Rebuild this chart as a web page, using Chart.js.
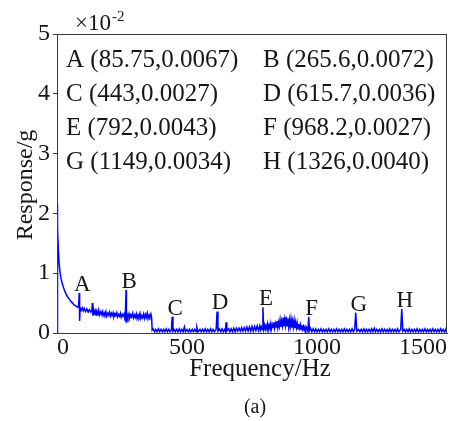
<!DOCTYPE html>
<html lang="en">
<head>
    <meta charset="UTF-8">
    <title>Response Spectrum</title>
    <script src="https://cdn.jsdelivr.net/npm/chart.js"></script>
    <style>
        body {
            margin: 0;
            padding: 0;
            background: #ffffff;
        }
        canvas {
            display: block;
        }
    </style>
</head>
<body>

<canvas id="spectrumChart" width="459" height="421"></canvas>

<script>
    // Labelled peaks: name, frequency (Hz), response (g)
    const peakNames = ['A', 'B', 'C', 'D', 'E', 'F', 'G', 'H'];
    const peakFreqHz = [85.75, 265.6, 443, 615.7, 792, 968.2, 1149, 1326];
    const peakRespG = [0.0067, 0.0072, 0.0027, 0.0036, 0.0043, 0.0027, 0.0034, 0.0040];

    const xTicks = [0, 500, 1000, 1500];
    const yTicks = [0, 1, 2, 3, 4, 5];   // in units of 10^-2 g

    // Spectrum below the cut-off, [Hz, 10^-2 g]
    const lowBand = [
        [0, 0], [1, 2.15], [3, 1.75], [5, 1.42], [8, 1.17], [12, 1.0], [16, 0.9], [20, 0.83],
        [25, 0.76], [30, 0.7], [35, 0.65], [40, 0.61], [45, 0.58], [50, 0.55], [55, 0.52],
        [60, 0.5], [65, 0.47], [70, 0.46], [75, 0.44], [80, 0.43], [83, 0.45], [87, 0.2],
        [89, 0.42], [93, 0.38], [97, 0.42], [101, 0.37], [105, 0.41], [110, 0.36], [115, 0.4],
        [120, 0.35], [125, 0.39], [130, 0.35], [134, 0.38], [136, 0.5], [138, 0.29], [141, 0.39],
        [144, 0.33], [147, 0.37], [150, 0.3], [153, 0.36], [157, 0.32], [160, 0.38], [163, 0.3],
        [167, 0.35], [170, 0.31], [174, 0.36], [177, 0.29], [181, 0.34], [184, 0.31], [188, 0.36],
        [191, 0.28], [195, 0.33], [198, 0.3], [202, 0.35], [205, 0.28], [209, 0.33], [212, 0.29],
        [216, 0.34], [219, 0.27], [223, 0.32], [226, 0.29], [230, 0.34], [233, 0.27], [237, 0.31],
        [240, 0.28], [244, 0.33], [247, 0.26], [251, 0.31], [254, 0.28], [258, 0.32], [261, 0.27],
        [263, 0.3], [267, 0.17], [270, 0.31], [273, 0.26], [277, 0.32], [280, 0.25], [284, 0.3],
        [287, 0.27], [291, 0.33], [294, 0.25], [298, 0.3], [301, 0.26], [305, 0.32], [308, 0.24],
        [312, 0.3], [315, 0.27], [319, 0.33], [322, 0.24], [326, 0.29], [329, 0.26], [333, 0.32],
        [336, 0.24], [340, 0.31], [343, 0.26], [347, 0.33], [350, 0.24], [354, 0.3], [357, 0.27],
        [361, 0.32], [364, 0.25], [366, 0.05]
    ];

    // Spectrum above the cut-off, [Hz, 10^-2 g]
    const highBand = [
        [370, 0.07], [375, 0.02], [380, 0.06], [385, 0.02], [390, 0.07], [395, 0.02], [400, 0.06],
        [405, 0.02], [410, 0.06], [415, 0.02], [420, 0.07], [425, 0.02], [430, 0.06], [435, 0.02],
        [440, 0.05], [446, 0.03], [450, 0.06], [455, 0.02], [460, 0.06], [465, 0.02], [470, 0.07],
        [475, 0.02], [480, 0.06], [485, 0.02], [490, 0.1], [494, 0.02], [500, 0.06], [505, 0.02],
        [510, 0.06], [515, 0.02], [520, 0.06], [525, 0.02], [530, 0.06], [535, 0.02], [538, 0.09],
        [542, 0.02], [550, 0.06], [555, 0.02], [560, 0.06], [565, 0.02], [570, 0.07], [575, 0.02],
        [580, 0.06], [585, 0.02], [590, 0.07], [595, 0.02], [600, 0.06], [605, 0.02], [612, 0.06],
        [619, 0.03], [625, 0.07], [630, 0.02], [635, 0.07], [640, 0.02], [645, 0.06], [648, 0.03],
        [650, 0.18], [653, 0.03], [660, 0.07], [665, 0.02], [670, 0.07], [675, 0.02], [680, 0.08],
        [685, 0.02], [690, 0.08], [695, 0.03], [700, 0.08], [705, 0.03], [710, 0.09], [715, 0.03],
        [720, 0.09], [725, 0.03], [730, 0.1], [735, 0.03], [740, 0.1], [745, 0.03], [750, 0.11],
        [755, 0.03], [760, 0.11], [765, 0.04], [770, 0.12], [775, 0.04], [780, 0.12], [783, 0.05],
        [786, 0.1], [789, 0.06], [795, 0.07], [798, 0.13], [801, 0.06], [804, 0.12], [807, 0.07],
        [810, 0.15], [813, 0.06], [816, 0.13], [819, 0.08], [822, 0.16], [825, 0.07], [828, 0.14],
        [831, 0.09], [834, 0.18], [837, 0.08], [840, 0.16], [843, 0.1], [846, 0.2], [849, 0.09],
        [852, 0.18], [855, 0.11], [858, 0.22], [861, 0.1], [864, 0.2], [867, 0.12], [870, 0.26],
        [873, 0.11], [876, 0.23], [879, 0.13], [882, 0.27], [885, 0.12], [888, 0.24], [891, 0.1],
        [894, 0.22], [897, 0.11], [900, 0.23], [903, 0.09], [906, 0.2], [909, 0.1], [912, 0.21],
        [915, 0.08], [918, 0.18], [921, 0.09], [924, 0.17], [927, 0.07], [930, 0.15], [933, 0.08],
        [936, 0.14], [939, 0.06], [942, 0.13], [945, 0.06], [948, 0.11], [951, 0.05], [954, 0.1],
        [957, 0.04], [960, 0.09], [965, 0.03], [971, 0.04], [975, 0.08], [980, 0.02], [985, 0.07],
        [990, 0.02], [995, 0.07], [1000, 0.02], [1005, 0.06], [1010, 0.02], [1015, 0.07],
        [1020, 0.02], [1025, 0.06], [1030, 0.02], [1035, 0.06], [1040, 0.02], [1045, 0.07],
        [1050, 0.02], [1055, 0.06], [1060, 0.02], [1065, 0.06], [1070, 0.02], [1075, 0.07],
        [1080, 0.02], [1085, 0.06], [1090, 0.02], [1095, 0.06], [1100, 0.02], [1105, 0.07],
        [1110, 0.02], [1115, 0.06], [1120, 0.02], [1125, 0.06], [1130, 0.02], [1135, 0.07],
        [1140, 0.02], [1145, 0.06], [1153, 0.03], [1160, 0.06], [1165, 0.02], [1170, 0.06],
        [1175, 0.02], [1180, 0.07], [1185, 0.02], [1190, 0.06], [1195, 0.02], [1200, 0.06],
        [1205, 0.02], [1210, 0.07], [1215, 0.02], [1220, 0.08], [1225, 0.02], [1230, 0.06],
        [1235, 0.02], [1240, 0.06], [1245, 0.02], [1250, 0.07], [1255, 0.02], [1260, 0.06],
        [1265, 0.02], [1270, 0.06], [1275, 0.02], [1280, 0.07], [1285, 0.02], [1290, 0.06],
        [1295, 0.02], [1300, 0.06], [1305, 0.02], [1310, 0.07], [1315, 0.02], [1322, 0.06],
        [1330, 0.03], [1335, 0.06], [1340, 0.02], [1345, 0.06], [1350, 0.02], [1355, 0.07],
        [1360, 0.02], [1365, 0.06], [1370, 0.02], [1375, 0.06], [1380, 0.02], [1385, 0.07],
        [1390, 0.02], [1395, 0.06], [1400, 0.02], [1405, 0.06], [1410, 0.02], [1415, 0.07],
        [1420, 0.02], [1425, 0.06], [1430, 0.02], [1435, 0.06], [1440, 0.02], [1445, 0.07],
        [1450, 0.02], [1455, 0.06], [1460, 0.02], [1465, 0.06], [1470, 0.02], [1475, 0.07],
        [1480, 0.02], [1485, 0.06], [1490, 0.02], [1495, 0.06], [1498, 0.02], [1500, 0.3]
    ];

    const SERIF = '"Liberation Serif", "Times New Roman", serif';
    const INK = '#161616';

    // merge the band data with the labelled peaks (g -> 10^-2 g)
    const points = lowBand.concat(highBand)
        .map(p => ({x: p[0], y: p[1]}))
        .concat(peakFreqHz.map((f, i) => ({x: f, y: peakRespG[i] * 100})))
        .sort((a, b) => a.x - b.x);

    // frame, axis titles, peak letters and the peak table
    const decorations = {
        id: 'decorations',
        afterDatasetsDraw(chart) {
            const ctx = chart.ctx;
            const area = chart.chartArea;
            const xs = chart.scales.x;
            const ys = chart.scales.y;

            ctx.save();
            ctx.strokeStyle = '#3a3a3a';
            ctx.lineWidth = 1;
            ctx.strokeRect(area.left + 0.5, area.top + 0.5, area.right - area.left - 1, area.bottom - area.top);

            ctx.fillStyle = INK;

            // letters over each peak
            ctx.font = '23px ' + SERIF;
            ctx.textAlign = 'center';
            ctx.textBaseline = 'alphabetic';
            peakNames.forEach((name, i) => {
                const px = xs.getPixelForValue(peakFreqHz[i]) + 3;
                const py = ys.getPixelForValue(peakRespG[i] * 100) - 2;
                ctx.fillText(name, px, py);
            });

            // peak coordinate table, two columns
            ctx.font = '25px ' + SERIF;
            ctx.textAlign = 'left';
            const colX = [66, 263];
            const rowY = [67, 101, 135, 169];
            peakNames.forEach((name, i) => {
                const txt = name + ' (' + peakFreqHz[i] + ',' + peakRespG[i].toFixed(4) + ')';
                ctx.fillText(txt, colX[i % 2], rowY[Math.floor(i / 2)]);
            });

            // exponent above the y axis
            ctx.font = '23px ' + SERIF;
            ctx.fillText('\u00d710', 75, 30);
            const w = ctx.measureText('\u00d710').width;
            ctx.font = '15px ' + SERIF;
            ctx.fillText('-2', 75 + w + 1, 21);

            // axis titles
            ctx.font = '25px ' + SERIF;
            ctx.textAlign = 'center';
            ctx.fillText('Frequency/Hz', 260, 376);

            ctx.font = '20px ' + SERIF;
            ctx.fillText('(a)', 255, 413);

            ctx.save();
            ctx.translate(32, 185);
            ctx.rotate(-Math.PI / 2);
            ctx.font = '24px ' + SERIF;
            ctx.fillText('Response/g', 0, 0);
            ctx.restore();

            ctx.restore();
        }
    };

    const ctx = document.getElementById('spectrumChart').getContext('2d');
    const spectrumChart = new Chart(ctx, {
        type: 'line',
        data: {
            datasets: [{
                data: points,
                borderColor: '#0000ff',
                borderWidth: 1.5,
                pointRadius: 0,
                tension: 0,
                fill: false
            }]
        },
        options: {
            responsive: false,
            animation: false,
            devicePixelRatio: 1,
            layout: {
                padding: {left: 0, top: 34, right: 12, bottom: 0}
            },
            plugins: {
                legend: {display: false},
                tooltip: {enabled: false}
            },
            scales: {
                x: {
                    type: 'linear',
                    min: xTicks[0],
                    max: xTicks[xTicks.length - 1],
                    afterBuildTicks: s => { s.ticks = xTicks.map(v => ({value: v})); },
                    afterFit: s => { s.height = 88; },
                    border: {display: true, color: '#3a3a3a', width: 1},
                    grid: {drawOnChartArea: false, drawTicks: false},
                    ticks: {
                        align: 'inner',
                        maxRotation: 0,
                        padding: 0,
                        color: INK,
                        font: {family: SERIF, size: 24},
                        callback: v => String(v)
                    }
                },
                y: {
                    type: 'linear',
                    min: yTicks[0],
                    max: yTicks[yTicks.length - 1],
                    afterBuildTicks: s => { s.ticks = yTicks.map(v => ({value: v})); },
                    afterFit: s => { s.width = 57; },
                    border: {display: true, color: '#3a3a3a', width: 1},
                    grid: {drawOnChartArea: false, drawTicks: true, tickLength: 4, color: '#3a3a3a'},
                    ticks: {
                        padding: 3,
                        color: INK,
                        font: {family: SERIF, size: 24},
                        callback: v => String(v)
                    }
                }
            }
        },
        plugins: [decorations]
    });
</script>

</body>
</html>
